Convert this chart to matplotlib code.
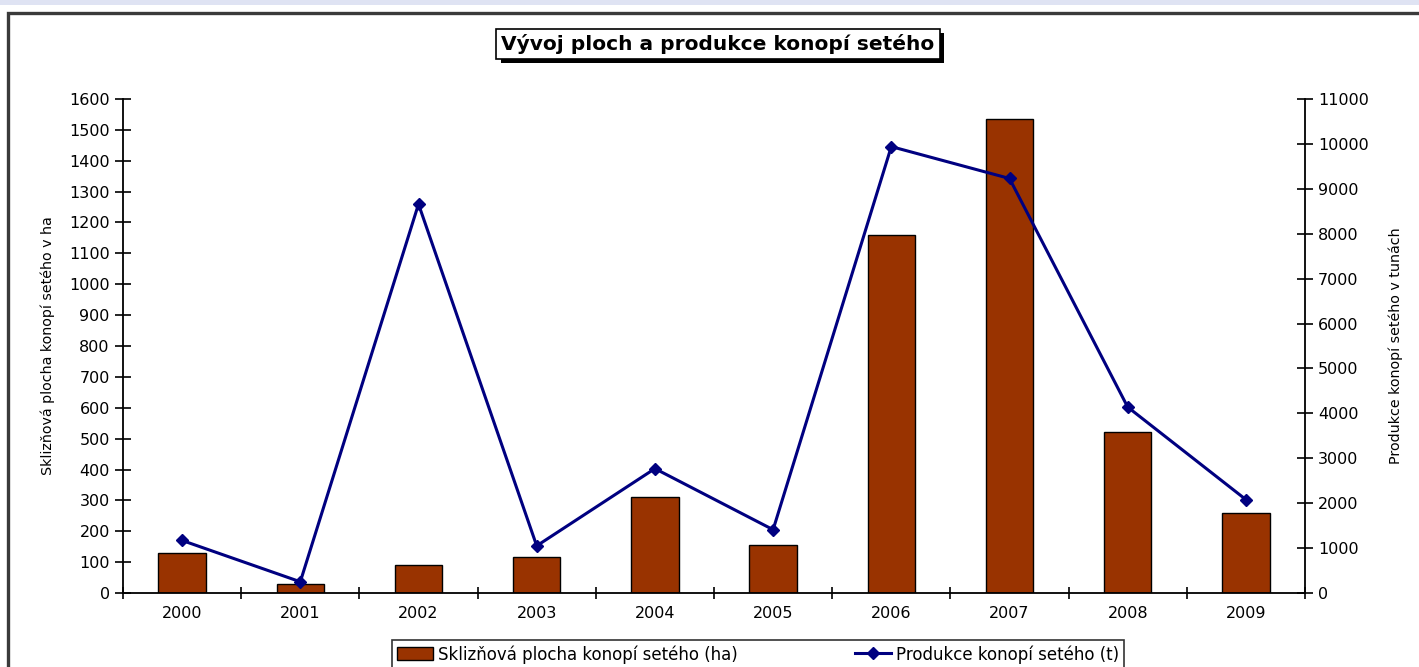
import matplotlib
matplotlib.use("Agg")
import matplotlib.pyplot as plt
from matplotlib.patches import Rectangle
from matplotlib.lines import Line2D
import matplotlib.patheffects as pe
import numpy as np

years = ["2000", "2001", "2002", "2003", "2004", "2005", "2006", "2007", "2008", "2009"]
area_ha = [130, 30, 90, 115, 310, 155, 1160, 1535, 520, 260]
production_t = [1170, 250, 8660, 1050, 2770, 1410, 9940, 9230, 4140, 2080]
left_ticks = list(range(0, 1601, 100))
right_ticks = list(range(0, 11001, 1000))

title = "Vývoj ploch a produkce konopí setého"
left_label = "Sklizňová plocha konopí setého v ha"
right_label = "Produkce konopí setého v tunách"
bar_label = "Sklizňová plocha konopí setého (ha)"
line_label = "Produkce konopí setého (t)"

BAR_C = "#993300"
LINE_C = "#000080"

plt.rcParams['font.family'] = ['DejaVu Sans']

W, H = 1419, 667
fig = plt.figure(figsize=(W / 100, H / 100), dpi=100)
fig.patch.set_facecolor("white")

# top band and frame
fig.add_artist(Rectangle((0, 1 - 4.5 / H), 1, 4.5 / H, transform=fig.transFigure,
                         facecolor="#dfe3f3", edgecolor="none"))
fig.add_artist(Line2D([7.5 / W, 7.5 / W, 1.0], [0, 1 - 13 / H, 1 - 13 / H],
                      transform=fig.transFigure, color="#3a3a3a", lw=2.4,
                      solid_joinstyle="miter"))

ax = fig.add_axes([123 / W, 1 - 593 / H, (1305 - 123) / W, (593 - 99) / H])
x = np.arange(len(years))
bars = ax.bar(x, area_ha, width=0.4, color=BAR_C, edgecolor="black", linewidth=1.0,
              label=bar_label, zorder=2)
ax.set_xlim(-0.5, len(years) - 0.5)
ax.set_ylim(0, 1600)
ax.set_yticks(left_ticks)
ax.set_xticks(np.arange(-0.5, len(years), 1.0))
ax.set_xticklabels([])
ax.set_xticks(x, minor=True)
ax.set_xticklabels(years, minor=True)
ax.tick_params(axis="x", which="major", direction="inout", length=9, width=1.2)
ax.tick_params(axis="x", which="minor", length=0, pad=9, labelsize=11.5)
ax.tick_params(axis="y", direction="inout", length=11, width=1.2, labelsize=11.5, pad=4)
for s in ["top", "right"]:
    ax.spines[s].set_visible(False)
ax.spines["left"].set_linewidth(1.3)
ax.spines["bottom"].set_linewidth(1.3)
ax.set_ylabel(left_label, fontsize=10.3, labelpad=10)

ax2 = ax.twinx()
ln, = ax2.plot(x, production_t, color=LINE_C, lw=2.2, marker="D", markersize=6.5,
               label=line_label, zorder=3)
ax2.set_ylim(0, 11000)
ax2.set_yticks(right_ticks)
ax2.tick_params(axis="y", direction="inout", length=11, width=1.2, labelsize=11.5, pad=4)
for s in ["top", "left", "bottom"]:
    ax2.spines[s].set_visible(False)
ax2.spines["right"].set_linewidth(1.3)
ax2.set_ylabel(right_label, fontsize=10.3, labelpad=14)

# title with shadowed box
tx, ty = 718 / W, 1 - 44 / H
t = fig.text(tx, ty, title, ha="center", va="center", fontsize=14.5, fontweight="bold",
             color="black",
             bbox=dict(boxstyle="square,pad=0.25", facecolor="white", edgecolor="black", lw=1.2))
t.get_bbox_patch().set_path_effects([
    pe.SimplePatchShadow(offset=(3, -3), shadow_rgbFace="black", alpha=1.0),
    pe.Normal()])

leg = fig.legend([bars, ln], [bar_label, line_label], loc="upper center",
                 bbox_to_anchor=(758 / W, 1 - 640 / H), ncol=2, fontsize=12,
                 frameon=True, fancybox=False, shadow=False, borderpad=0.3,
                 borderaxespad=0.0,
                 handlelength=2.2, handleheight=0.8, columnspacing=7.0, handletextpad=0.3)
leg.get_frame().set_edgecolor("black")
leg.get_frame().set_linewidth(1.2)

fig.savefig("out.png", dpi=100, facecolor="white")
